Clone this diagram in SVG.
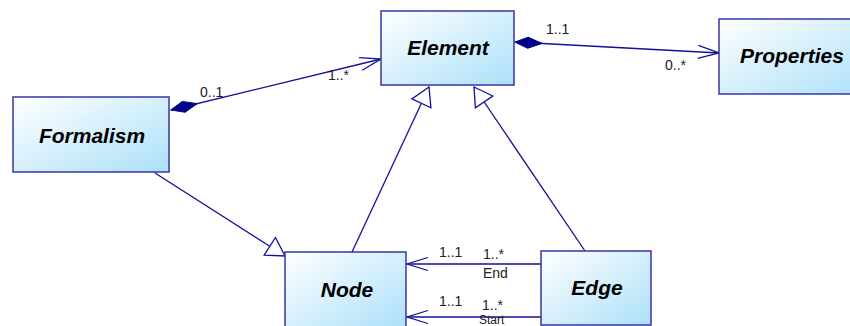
<svg xmlns="http://www.w3.org/2000/svg" width="850" height="326" viewBox="0 0 850 326">
<style>
.box{fill:url(#g);stroke:#3636a8;stroke-width:1.5}
.name{font-family:"Liberation Sans",Arial,sans-serif;font-size:21px;font-weight:bold;font-style:italic;fill:#000;text-anchor:middle}
.lbl{font-family:"Liberation Sans",Arial,sans-serif;font-size:14px;fill:#222}
.ln{stroke:#10109a;stroke-width:1.3;fill:none}
</style>
<defs>
<linearGradient id="g" x1="0" y1="0" x2="1" y2="1">
<stop offset="0" stop-color="#ffffff"/>
<stop offset="1" stop-color="#ace0f9"/>
</linearGradient>
<marker id="open" markerUnits="userSpaceOnUse" markerWidth="30" markerHeight="20" viewBox="-25 -10 30 20" refX="0" refY="0" orient="auto" overflow="visible">
<path d="M-21,-6.5 L0,0 L-21,6.5" fill="none" stroke="#10109a" stroke-width="1.3"/>
</marker>
<marker id="tri" markerUnits="userSpaceOnUse" markerWidth="30" markerHeight="30" viewBox="-25 -15 30 30" refX="0" refY="0" orient="auto" overflow="visible">
<path d="M0,0 L-18,-10.5 L-18,10.5 Z" fill="#fff" stroke="#10109a" stroke-width="1.3"/>
</marker>
<marker id="dia" markerUnits="userSpaceOnUse" markerWidth="30" markerHeight="14" viewBox="-2 -7 30 14" refX="0" refY="0" orient="auto" overflow="visible">
<path d="M0,0 L13,-5.5 L27,0 L13,5.5 Z" fill="#000088" stroke="#000088" stroke-width="1"/>
</marker>
</defs>
<g id="connectors">
<path class="ln" d="M171,110 L381,59" marker-start="url(#dia)" marker-end="url(#open)"/>
<path class="ln" d="M515,42 L719,53" marker-start="url(#dia)" marker-end="url(#open)"/>
<path class="ln" d="M155,173 L285,256" marker-end="url(#tri)"/>
<path class="ln" d="M352,252 L429,87" marker-end="url(#tri)"/>
<path class="ln" d="M585,251 L474,87" marker-end="url(#tri)"/>
<path class="ln" d="M541,264 L407,264" marker-end="url(#open)"/>
<path class="ln" d="M541,317 L407,317" marker-end="url(#open)"/>
<text class="lbl" x="200" y="97">0..1</text>
<text class="lbl" x="328" y="80">1..*</text>
<text class="lbl" x="546" y="34">1..1</text>
<text class="lbl" x="665" y="70">0..*</text>
<text class="lbl" x="439" y="257">1..1</text>
<text class="lbl" x="483" y="259">1..*</text>
<text class="lbl" x="483" y="278">End</text>
<text class="lbl" x="439" y="306">1..1</text>
<text class="lbl" x="482" y="310">1..*</text>
<text class="lbl" x="479" y="324" style="font-size:12px">Start</text>
</g>
<g id="element">
<rect class="box" x="381" y="11" width="133" height="74"/>
<text class="name" x="448" y="55">Element</text>
</g>
<g id="properties">
<rect class="box" x="719" y="19" width="150" height="75"/>
<text class="name" x="740" y="63" style="text-anchor:start">Properties</text>
</g>
<g id="formalism">
<rect class="box" x="13" y="97" width="156" height="75"/>
<text class="name" x="92" y="143">Formalism</text>
</g>
<g id="node">
<rect class="box" x="285" y="252" width="121" height="76"/>
<text class="name" x="347" y="297">Node</text>
</g>
<g id="edge">
<rect class="box" x="541" y="251" width="110" height="74"/>
<text class="name" x="597" y="295">Edge</text>
</g>
</svg>
